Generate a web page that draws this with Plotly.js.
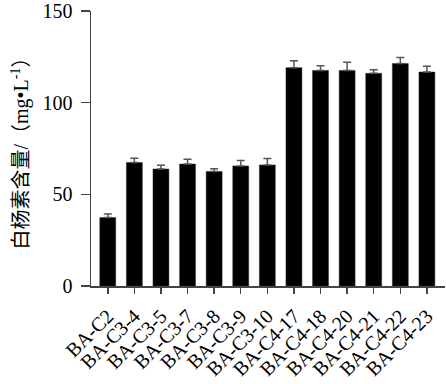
<!DOCTYPE html>
<html><head><meta charset="utf-8">
<script src="https://cdn.plot.ly/plotly-3.0.1.min.js"></script>
<style>html,body{margin:0;padding:0;background:#fff}#c{width:446px;height:384px}</style>
</head><body><div id="c"></div>
<script>
const categories = ["BA-C2","BA-C3-4","BA-C3-5","BA-C3-7","BA-C3-8","BA-C3-9","BA-C3-10","BA-C4-17","BA-C4-18","BA-C4-20","BA-C4-21","BA-C4-22","BA-C4-23"];
const values = [37.3,67.3,63.8,66.5,62.5,65.5,66.0,119.1,117.6,117.6,116.0,121.3,116.7];
const errors = [2.0,2.4,2.0,2.6,1.5,3.0,3.5,3.8,2.6,4.4,2.0,3.4,3.1];
const yTicks = [0,50,100,150];

const font = "Liberation Serif, Times New Roman, serif";
const trace = {
  type: "bar", x: categories, y: values, width: 0.6,
  marker: {color: "#000", line: {color: "#333", width: 0.5}},
  error_y: {type: "data", array: errors, symmetric: false, arrayminus: errors.map(()=>0),
            color: "#555", thickness: 1.5, width: 4}
};
const layout = {
  width: 446, height: 384,
  margin: {l: 91, r: 1, t: 11, b: 98},
  paper_bgcolor: "#fff", plot_bgcolor: "#fff",
  showlegend: false,
  bargap: 0.4,
  xaxis: {
    range: [-0.63, 12.68], showline: true, linecolor: "#444", linewidth: 1.5,
    ticks: "outside", ticklen: 6, tickwidth: 1.5, tickcolor: "#444",
    tickangle: -45, tickfont: {family: font, size: 20, color: "#000"},
    ticklabelstandoff: 3,
    showgrid: false, zeroline: false, fixedrange: true
  },
  yaxis: {
    range: [0, 150], tickvals: yTicks, ticktext: yTicks.map(String),
    showline: true, linecolor: "#444", linewidth: 1.5,
    ticks: "outside", ticklen: 9, tickwidth: 1.5, tickcolor: "#444",
    tickfont: {family: font, size: 20, color: "#000"},
    ticklabelstandoff: 4,
    showgrid: false, zeroline: false,
    title: {text: "白杨素含量/（mg•L<sup>-1</sup>）", font: {family: font + ", Noto Sans CJK SC", size: 20, color: "#000"}, standoff: 8}
  }
};
Plotly.newPlot("c", [trace], layout, {staticPlot: true});
</script></body></html>
